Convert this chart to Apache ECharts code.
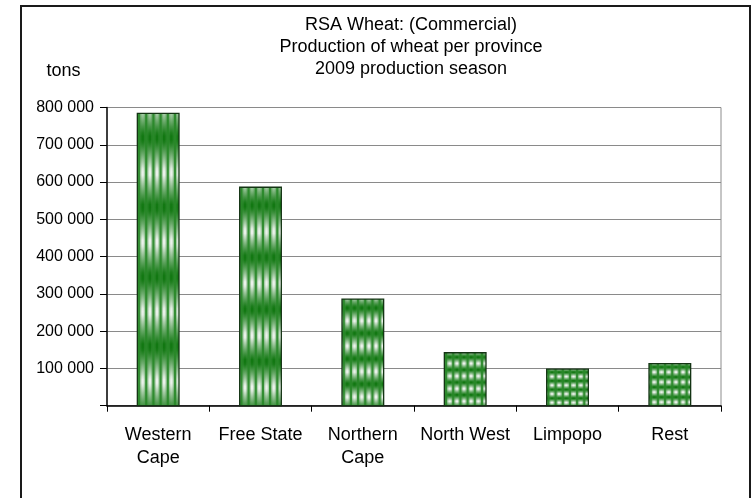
<!DOCTYPE html>
<html>
<head>
<meta charset="utf-8">
<script src="https://cdn.jsdelivr.net/npm/echarts@6/dist/echarts.min.js"></script>
<style>
html,body{margin:0;padding:0;background:#fff;}
#chart{width:751px;height:498px;}
</style>
</head>
<body>
<div id="chart"></div>
<script>
// ---- data ----
const categories = ['Western\nCape', 'Free State', 'Northern\nCape', 'North West', 'Limpopo', 'Rest'];
const production = [784000, 586000, 286000, 142000, 98000, 113000];
const titleLines = ['RSA Wheat: (Commercial)', 'Production of wheat per province', '2009 production season'];
const unitLabel = 'tons';
const yMin = 0, yMax = 800000, yStep = 100000;

// ---- styling helpers ----
const FONT = '"Liberation Sans", Arial, sans-serif';
const BAR_RATIO = 0.407;
const DARK = [18, 120, 18];
const LIGHT = [236, 242, 236];

function mix(a, b, s) {
  return 'rgb(' + a.map((v, i) => Math.round(v * (1 - s) + b[i] * s)).join(',') + ')';
}
function bandGradient(periods, phase) {
  const stops = [];
  const n = 90;
  for (let i = 0; i <= n; i++) {
    const t = i / n;
    const u = t * periods - phase;
    let d = Math.abs(u - Math.round(u));
    let s = Math.max(0, Math.min(1, (d - 0.035) / 0.43));
    s = Math.pow(s, 1.15);
    stops.push({ offset: t, color: mix(DARK, LIGHT, s) });
  }
  return new echarts.graphic.LinearGradient(0, 0, 0, 1, stops);
}

function renderBar(params, api) {
  const idx = api.value(0);
  const val = api.value(1);
  const top = api.coord([idx, val]);
  const base = api.coord([idx, 0]);
  const w = api.size([1, 0])[0] * BAR_RATIO;
  const x = top[0] - w / 2;
  const y = top[1];
  const h = base[1] - top[1];
  const children = [];
  children.push({
    type: 'rect',
    shape: { x: x, y: y, width: w, height: h },
    style: { fill: bandGradient(4.2, 0.35) }
  });
  const p = w / 5.8;
  // soft shading beside the stripe lines
  for (let k = 0; k < 7; k++) {
    const lx = x + (0.24 + k) * p;
    const l = Math.max(x, lx - 2.4), r = Math.min(x + w, lx + 2.4);
    if (r - l > 0.3) {
      children.push({
        type: 'rect',
        shape: { x: l, y: y, width: r - l, height: h },
        style: { fill: 'rgba(70,150,70,0.35)' }
      });
    }
  }
  // vertical green stripe lines
  for (let k = 0; k < 7; k++) {
    const lx = x + (0.24 + k) * p;
    const l = Math.max(x, lx - 1.1), r = Math.min(x + w, lx + 1.1);
    if (r - l > 0.3) {
      children.push({
        type: 'rect',
        shape: { x: l, y: y, width: r - l, height: h },
        style: { fill: 'rgba(40,135,40,0.9)' }
      });
    }
  }
  children.push({
    type: 'rect',
    shape: { x: x, y: y, width: w, height: h },
    style: { fill: 'none', stroke: '#143414', lineWidth: 1.3 }
  });
  return { type: 'group', children: children };
}

const chart = echarts.init(document.getElementById('chart'), null, { renderer: 'canvas' });
chart.setOption({
  backgroundColor: '#fff',
  animation: false,
  textStyle: { fontFamily: FONT },
  grid: {
    left: 107, right: 30, top: 107.5, bottom: 92.3,
    show: true, borderColor: '#8c8c8c', borderWidth: 1, backgroundColor: 'transparent'
  },
  graphic: [
    {
      type: 'rect', z: 0, silent: true,
      shape: { x: 21, y: 6, width: 729, height: 510 },
      style: { fill: 'none', stroke: '#1a1a1a', lineWidth: 2 }
    },
    {
      type: 'text', x: 411, y: 14, z: 10,
      style: {
        text: titleLines.join('\n'), align: 'center', verticalAlign: 'top',
        font: '18px ' + FONT, lineHeight: 22, fill: '#000'
      }
    },
    {
      type: 'text', x: 63.5, y: 71.4, z: 10,
      style: { text: unitLabel, align: 'center', verticalAlign: 'middle', font: '18px ' + FONT, fill: '#000' }
    }
  ],
  xAxis: {
    type: 'category',
    data: categories,
    boundaryGap: true,
    axisLine: { show: true, lineStyle: { color: '#000', width: 1.5 } },
    axisTick: { show: true, length: 6, lineStyle: { color: '#000' } },
    axisLabel: {
      color: '#000', fontSize: 18, fontFamily: FONT, lineHeight: 23,
      margin: 18, interval: 0, verticalAlign: 'top'
    },
    splitLine: { show: false }
  },
  yAxis: {
    type: 'value',
    min: yMin, max: yMax, interval: yStep,
    axisLine: { show: true, lineStyle: { color: '#111', width: 1.5 } },
    axisTick: { show: true, length: 7, lineStyle: { color: '#000' } },
    axisLabel: {
      color: '#000', fontSize: 16, fontFamily: FONT, margin: 13,
      formatter: v => v === 0 ? '' : String(v).replace(/\B(?=(\d{3})+(?!\d))/g, ' ')
    },
    splitLine: { show: true, lineStyle: { color: '#8a8a8a', width: 1 } }
  },
  series: [{
    type: 'custom',
    renderItem: renderBar,
    encode: { x: 0, y: 1 },
    data: production.map((v, i) => [i, v]),
    z: 5
  }]
});
</script>
</body>
</html>
